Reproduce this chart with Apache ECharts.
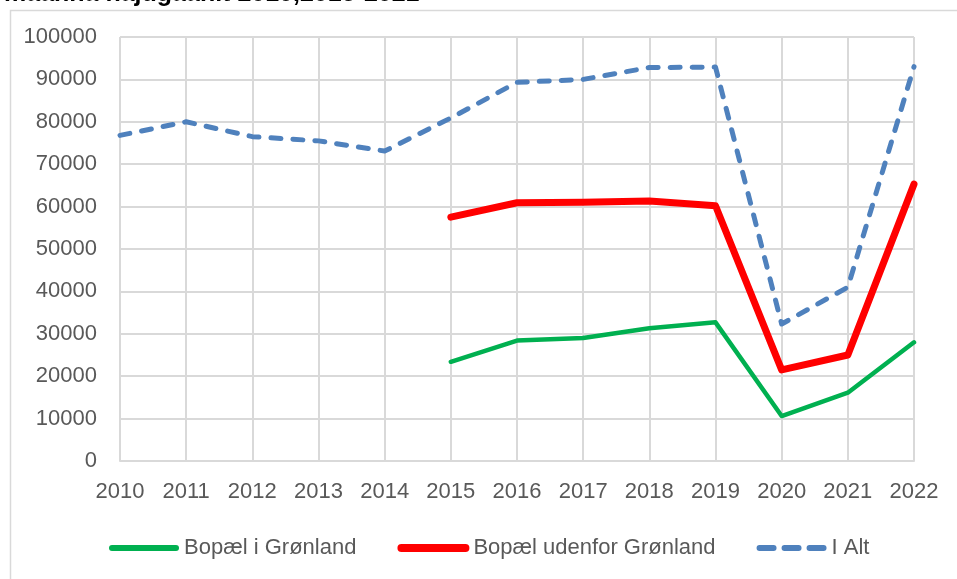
<!DOCTYPE html>
<html>
<head>
<meta charset="utf-8">
<script src="https://cdn.jsdelivr.net/npm/echarts@6/dist/echarts.min.js"></script>
<style>
  html, body { margin: 0; padding: 0; background: #fff; }
  #chart { width: 957px; height: 579px; }
</style>
</head>
<body>
<div id="chart"></div>
<script>
// aar og tal
var years = ['2010', '2011', '2012', '2013', '2014', '2015', '2016', '2017', '2018', '2019', '2020', '2021', '2022'];
var bopaelGronland = [null, null, null, null, null, 23400, 28400, 29000, 31300, 32700, 10600, 16100, 28000];
var bopaelUdenfor = [null, null, null, null, null, 57500, 60900, 61000, 61300, 60200, 21500, 25000, 65300];
var iAlt = [76800, 80000, 76500, 75500, 73100, 80900, 89300, 90000, 92800, 92900, 32300, 41000, 93000];

var textColor = '#595959';
var gridColor = '#d9d9d9';
var font = 'Liberation Sans, Arial, sans-serif';

var chart = echarts.init(document.getElementById('chart'));
chart.setOption({
    animation: false,
    title: {
        text: 'maanna najugaanit 2010,2015-2021',
        left: 4,
        top: -18,
        padding: 0,
        textStyle: { fontFamily: font, fontSize: 25, fontWeight: 'bold', color: '#000' }
    },
    graphic: [{
        // ramme om diagramområdet
        type: 'rect',
        left: 8,
        top: 8,
        shape: { width: 1200, height: 1200 },
        style: { fill: 'none', stroke: gridColor, lineWidth: 1.5 },
        z: -1
    }],
    legend: {
        left: 104,
        top: 532,
        itemWidth: 64,
        itemHeight: 16,
        itemGap: 41,
        itemStyle: { opacity: 0 },
        textStyle: { fontFamily: font, fontSize: 22, color: textColor, padding: [0, 0, 0, 3] },
        data: [
            { name: 'Bopæl i Grønland', lineStyle: { width: 6, cap: 'round' } },
            { name: 'Bopæl udenfor Grønland', lineStyle: { width: 8, cap: 'round' } },
            { name: 'I Alt', lineStyle: { width: 6, type: [14, 11], cap: 'round' } }
        ]
    },
    grid: { left: 120, right: 43, top: 37, bottom: 118 },
    xAxis: {
        type: 'category',
        data: years,
        boundaryGap: false,
        axisLine: { lineStyle: { color: gridColor, width: 2 } },
        axisTick: { show: false },
        axisLabel: { color: textColor, fontFamily: font, fontSize: 22, margin: 20, interval: 0 },
        splitLine: { show: true, lineStyle: { color: gridColor, width: 2 } }
    },
    yAxis: {
        type: 'value',
        min: 0,
        max: 100000,
        interval: 10000,
        axisLine: { show: false },
        axisTick: { show: false },
        axisLabel: {
            color: textColor, fontFamily: font, fontSize: 22, margin: 23,
            formatter: function (v) { return String(v); }
        },
        splitLine: { lineStyle: { color: gridColor, width: 2 } }
    },
    series: [{
        name: 'Bopæl i Grønland',
        type: 'line',
        data: bopaelGronland,
        symbol: 'none',
        color: '#00b050',
        lineStyle: { width: 4.5, color: '#00b050', cap: 'round', join: 'round' }
    }, {
        name: 'Bopæl udenfor Grønland',
        type: 'line',
        data: bopaelUdenfor,
        symbol: 'none',
        color: '#ff0000',
        lineStyle: { width: 7, color: '#ff0000', cap: 'round', join: 'round' }
    }, {
        name: 'I Alt',
        type: 'line',
        data: iAlt,
        symbol: 'none',
        color: '#4f81bd',
        lineStyle: { width: 5, color: '#4f81bd', type: [10, 12], cap: 'round', join: 'round' }
    }]
});
</script>
</body>
</html>
